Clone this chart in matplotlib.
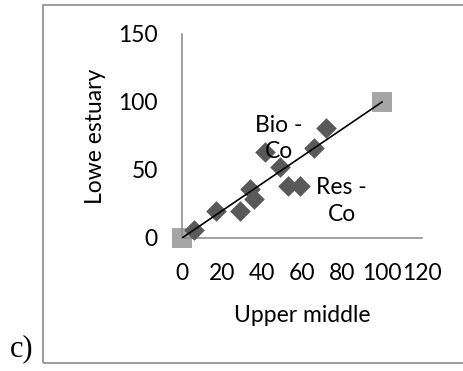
import matplotlib
matplotlib.use("Agg")
import matplotlib.pyplot as plt
from matplotlib.patches import Rectangle

# Cobalt values: upper-middle vs lower estuary
upper_middle = [6, 17, 29, 34, 36, 41.5, 49, 53, 59, 66, 72]
lower_estuary = [6, 20, 20, 36, 29, 63, 52, 38, 38, 66, 81]

# 1:1 reference series
ref_x = [0, 100]
ref_y = [0, 100]

x_ticks = [0, 20, 40, 60, 80, 100, 120]
y_ticks = [0, 50, 100, 150]

point_labels = ["Bio -\nCo", "Res -\nCo"]
label_pos_x = [48.5, 79.8]
label_pos_y = [73.2, 27.2]

FONT = "Lato"
FS = 16.5

W, H = 464, 371
fig = plt.figure(figsize=(W / 100, H / 100), dpi=100)

# outer frame of the panel
fig.patches.append(Rectangle((43.5 / W, 1 - 362.5 / H), 1.2, (362.5 - 5) / H,
                             transform=fig.transFigure, fill=False,
                             edgecolor="#8a8a8a", linewidth=1.2))

ax = fig.add_axes([182 / W, 1 - 238 / H, 240 / W, 204 / H])
ax.set_xlim(0, 120)
ax.set_ylim(0, 150)
ax.set_xticks(x_ticks)
ax.set_yticks(y_ticks)
ax.tick_params(length=0, labelsize=FS)
ax.tick_params(axis="y", pad=17.5)
ax.tick_params(axis="x", pad=18)
for lab in ax.get_xticklabels() + ax.get_yticklabels():
    lab.set_fontfamily(FONT)

for side in ("top", "right"):
    ax.spines[side].set_visible(False)
for side in ("left", "bottom"):
    ax.spines[side].set_color("#868686")
    ax.spines[side].set_linewidth(1.1)

ax.scatter(ref_x, ref_y, marker="s", s=15 ** 2, color="#a6a6a6",
           linewidths=0, zorder=2, clip_on=False)
ax.scatter(upper_middle, lower_estuary, marker="D", s=10.5 ** 2,
           color="#595959", linewidths=0, zorder=3, clip_on=False)
ax.plot(ref_x, ref_y, color="black", linewidth=1.2, zorder=4)

for txt, lx, ly in zip(point_labels, label_pos_x, label_pos_y):
    ax.text(lx, ly, txt, ha="center", va="center", fontsize=FS,
            fontfamily=FONT, linespacing=1.3, zorder=5)

ax.set_xlabel("Upper middle", fontsize=FS, fontfamily=FONT, va="center")
ax.xaxis.set_label_coords(0.5, (238 - 315) / 204)
ax.set_ylabel("Lowe estuary", fontsize=FS, fontfamily=FONT, va="center")
ax.yaxis.set_label_coords((96 - 182) / 240, 0.5)

fig.text(22 / W, 1 - 349 / H, "c)", fontsize=22, fontfamily="Liberation Serif",
         ha="center", va="center")

fig.savefig("out.png", dpi=100)
